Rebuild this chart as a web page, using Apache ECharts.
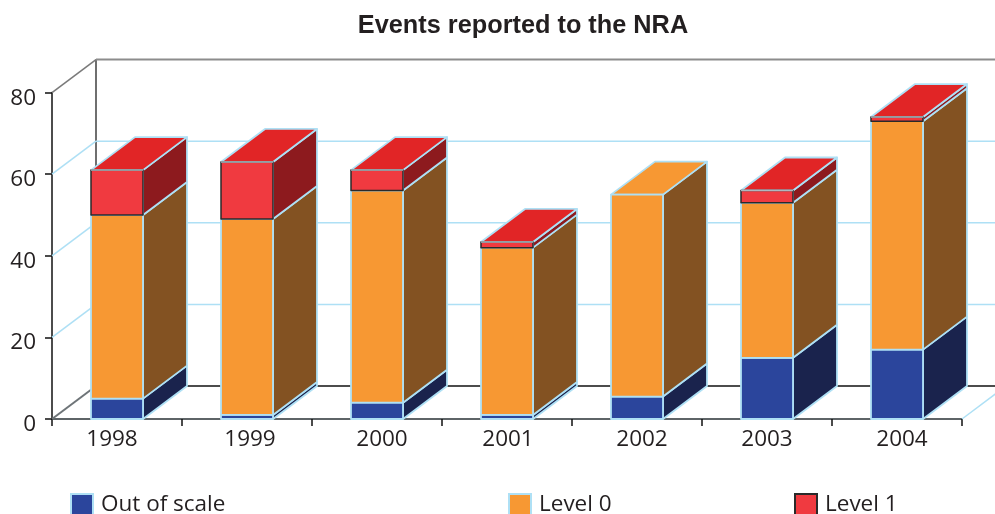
<!DOCTYPE html>
<html>
<head>
<meta charset="utf-8">
<title>Events reported to the NRA</title>
<style>html,body{margin:0;padding:0;background:#fff}#chart{width:995px;height:514px}</style>
<script src="https://cdn.jsdelivr.net/npm/echarts@6/dist/echarts.min.js"></script>
</head>
<body>
<div id="chart"></div>
<script>
const years = ['1998', '1999', '2000', '2001', '2002', '2003', '2004'];
const outOfScale = [5, 1, 4, 1, 5.5, 15, 17];
const level0 = [45, 48, 52, 41, 49.5, 38, 56];
const level1 = [11, 14, 5, 1.4, 0, 3, 1];
const yTicks = [0, 20, 40, 60, 80];

// Pseudo-3D extrusion of the boxes and walls, in pixels
const DEPTH_X = 44;
const DEPTH_Y = -33;
const EDGE = '#aee0f5';
const FONT = '"Open Sans"';

// Hand-placed horizontal nudges of the year labels, in pixels
const yearNudge = [-5, 3, 5, 1, 5, 0, 5];

const chart = echarts.init(document.getElementById('chart'), null, { renderer: 'canvas' });

const layers = [
  { name: 'Out of scale', values: outOfScale, front: '#2b459c', side: '#1a234d', top: '#2b459c', frontEdge: EDGE },
  { name: 'Level 0', values: level0, front: '#f79833', side: '#835222', top: '#f79833', frontEdge: EDGE },
  { name: 'Level 1', values: level1, front: '#f03a40', side: '#8d1a1e', top: '#e12526', frontEdge: '#2a2a2a' }
];

function poly(points, fill, stroke, width) {
  return {
    type: 'polygon',
    shape: { points: points },
    style: { fill: fill, stroke: stroke, lineWidth: width, lineJoin: 'round' }
  };
}

function seg(x1, y1, x2, y2, color, width) {
  return {
    type: 'line',
    shape: { x1: x1, y1: y1, x2: x2, y2: y2 },
    style: { stroke: color, lineWidth: width, fill: null }
  };
}

// One block of a stacked column: front, right side and, on the highest block, the lid
function renderBlock(layerIndex) {
  return function (params, api) {
    const cat = api.value(0);
    const start = api.value(1);
    const end = api.value(2);
    if (end <= start) return null;
    const layer = layers[layerIndex];
    const band = api.size([1, 0])[0];
    const w = band * 0.4;
    const bottom = api.coord([cat, start]);
    const upper = api.coord([cat, end]);
    const xl = bottom[0] - w / 2;
    const xr = bottom[0] + w / 2;
    const yb = bottom[1];
    const yt = upper[1];
    const isTop = layers.slice(layerIndex + 1).every(function (l) { return l.values[cat] === 0; });
    const dark = layer.frontEdge !== EDGE;
    const children = [
      poly([[xr, yb], [xr + DEPTH_X, yb + DEPTH_Y], [xr + DEPTH_X, yt + DEPTH_Y], [xr, yt]], layer.side, EDGE, 1.8)
    ];
    if (isTop) {
      children.push(poly([[xl, yt], [xr, yt], [xr + DEPTH_X, yt + DEPTH_Y], [xl + DEPTH_X, yt + DEPTH_Y]], layer.top, EDGE, 1.8));
    }
    children.push(poly([[xl, yb], [xr, yb], [xr, yt], [xl, yt]], layer.front, layer.frontEdge, dark ? 1.5 : 1.8));
    if (dark) {
      children.push(seg(xl, yt, xr, yt, '#aeb8c0', 1.5));
    }
    return { type: 'group', children: children };
  };
}

function blockData(layerIndex) {
  return years.map(function (y, i) {
    let start = 0;
    for (let k = 0; k < layerIndex; k++) start += layers[k].values[i];
    return [i, start, start + layers[layerIndex].values[i]];
  });
}

// Back wall, left wall and floor edges, aligned to the value scale
function renderWall(params, api) {
  const tick = api.value(0);
  const left = api.coord([0, tick]);
  const x0 = left[0] - api.size([1, 0])[0] / 2;
  const y = left[1];
  const farRight = x0 + api.size([1, 0])[0] * years.length;
  const children = [];
  const isBase = tick === yTicks[0];
  const isTop = tick === yTicks[yTicks.length - 1];
  const wallColor = isBase ? '#111' : (isTop ? '#8c8c8c' : EDGE);
  const sideColor = isBase ? '#6e7478' : (isTop ? '#7a7a7a' : EDGE);
  children.push(seg(x0, y, x0 + DEPTH_X, y + DEPTH_Y, sideColor, isBase ? 2 : 1.5));
  children.push(seg(x0 + DEPTH_X, y + DEPTH_Y, farRight + DEPTH_X, y + DEPTH_Y, wallColor, isTop ? 2 : 1.5));
  if (isBase) {
    children.push(seg(farRight, y, farRight + DEPTH_X, y + DEPTH_Y, EDGE, 1.5));
    const peak = api.coord([0, yTicks[yTicks.length - 1]])[1];
    children.push(seg(x0 + DEPTH_X, y + DEPTH_Y, x0 + DEPTH_X, peak + DEPTH_Y, '#6f6f6f', 2));
  }
  return { type: 'group', children: children };
}

const blockSeries = layers.map(function (layer, i) {
  return {
    type: 'custom',
    name: layer.name,
    renderItem: renderBlock(i),
    data: blockData(i),
    encode: { x: 0, y: [1, 2] },
    itemStyle: { color: layer.front },
    z: 3 + i,
    silent: true
  };
});

function legendFor(name, left, edge) {
  return {
    data: [name],
    left: left,
    top: 493,
    orient: 'horizontal',
    itemWidth: 22,
    itemHeight: 21,
    itemGap: 0,
    padding: 0,
    icon: 'rect',
    selectedMode: false,
    itemStyle: { borderColor: edge, borderWidth: 2 },
    textStyle: { fontFamily: FONT, fontSize: 22.5, color: '#231f20', padding: [0, 0, 0, 3] }
  };
}

chart.setOption({
  animation: false,
  backgroundColor: '#ffffff',
  title: {
    text: 'Events reported to the NRA',
    left: 518,
    top: 9,
    textAlign: 'center',
    textStyle: { fontFamily: '"Liberation Sans"', fontWeight: 'bold', fontSize: 25.3, color: '#231f20' }
  },
  legend: [
    legendFor('Out of scale', 70, EDGE),
    legendFor('Level 0', 508, EDGE),
    legendFor('Level 1', 794, '#2a2a2a')
  ],
  grid: { left: 52, right: 33, top: 92.6, bottom: 95, containLabel: false },
  xAxis: {
    type: 'category',
    data: years.map(function (y, i) {
      const d = yearNudge[i];
      return { value: y, textStyle: { padding: d >= 0 ? [0, 0, 0, 2 * d] : [0, -2 * d, 0, 0] } };
    }),
    boundaryGap: true,
    axisLine: { lineStyle: { color: '#2a3236', width: 1.5 } },
    axisTick: { show: true, length: 7, lineStyle: { color: '#111', width: 1.5 } },
    axisLabel: { fontFamily: FONT, fontSize: 22.5, color: '#231f20', margin: 9 }
  },
  yAxis: {
    type: 'value',
    min: 0,
    max: 80,
    interval: 20,
    splitLine: { show: false },
    axisLine: { show: true, lineStyle: { color: '#111', width: 1.5 } },
    axisTick: { show: true, length: 7, lineStyle: { color: '#111', width: 1.5 } },
    // A short line box anchored at the tick sits the digits just below tick level
    axisLabel: { fontFamily: FONT, fontSize: 22.5, color: '#231f20', margin: 16, verticalAlign: 'top', lineHeight: 11 }
  },
  series: [{
    type: 'custom',
    name: 'wall',
    renderItem: renderWall,
    data: yTicks.map(function (t) { return [t]; }),
    encode: { y: 0 },
    z: 1,
    silent: true
  }].concat(blockSeries)
});
</script>
</body>
</html>
